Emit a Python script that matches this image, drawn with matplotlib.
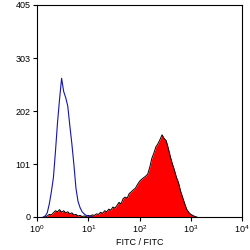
import numpy as np
import matplotlib.pyplot as plt

plt.rcParams['font.family'] = 'Liberation Sans'
plt.rcParams['mathtext.fontset'] = 'custom'
plt.rcParams['mathtext.rm'] = 'Liberation Sans'

# log10 bin centres (step 0.04 decade) and counts
bin_step = 0.04

blue_start = 0.12
blue_counts = [0, 2, 8, 25, 48, 75, 125, 180, 225, 265, 240, 228, 212,
               175, 140, 100, 55, 30, 18, 10, 6, 3, 2, 1, 0]

red_start = 0.16
red_counts = [0, 2, 5, 4, 8, 12, 10, 14, 9, 12, 8, 10, 6, 8, 4, 5, 2, 3,
              1, 2, 1, 3, 2, 4, 3, 6, 5, 9, 7, 12, 10, 15, 13, 19, 17, 22,
              28, 25, 35, 38, 36, 45, 48, 52, 55, 62, 68, 72, 75, 78, 82,
              95, 112, 122, 134, 140, 148, 157, 150, 146, 132, 116, 102,
              90, 76, 66, 50, 38, 26, 15, 9, 5, 3, 1, 0]

x_ticks = [1, 10, 100, 1000, 10000]
x_tick_labels = [r'$10^0$', r'$10^1$', r'$10^2$', r'$10^3$', r'$10^4$']
y_ticks = [0, 101, 202, 303, 405]
x_label = 'FITC / FITC'


def centres_for(start, n):
    return 10 ** (start + bin_step * np.arange(n))


fig = plt.figure(figsize=(2.5, 2.5), dpi=100)
ax = fig.add_axes([0.148, 0.132, 0.82, 0.848])

red_x = centres_for(red_start, len(red_counts))
ax.fill_between(red_x, red_counts, color='#FF0000', lw=0, zorder=2)
ax.plot(red_x, red_counts, color='black', lw=0.7, zorder=3)

blue_x = centres_for(blue_start, len(blue_counts))
ax.plot(blue_x, blue_counts, color='#1414B4', lw=0.8, zorder=4)

ax.set_xscale('log')
ax.set_xlim(1, 10000)
ax.set_ylim(0, 405)
ax.set_xticks(x_ticks)
ax.set_xticklabels(x_tick_labels)
ax.minorticks_off()
ax.set_yticks(y_ticks)
ax.tick_params(axis='both', labelsize=6.5, length=3, width=0.8, pad=1.5)
ax.set_xlabel(x_label, fontsize=6.5, labelpad=2)

for spine in ax.spines.values():
    spine.set_linewidth(0.8)
    spine.set_color('black')

fig.savefig('out.png', dpi=100)
